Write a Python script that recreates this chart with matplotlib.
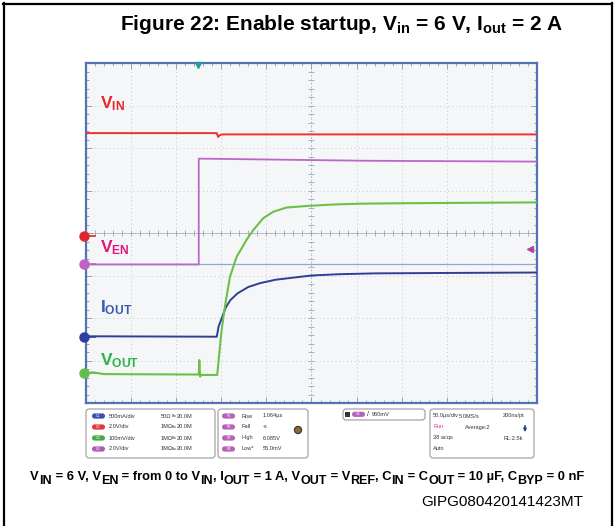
import matplotlib
matplotlib.use("Agg")
import matplotlib.pyplot as plt
from matplotlib.patches import FancyBboxPatch, Circle, Rectangle
from matplotlib.font_manager import FontProperties
import numpy as np

plt.rcParams['font.family'] = ['Liberation Sans', 'DejaVu Sans']
plt.rcParams['mathtext.fontset'] = 'custom'
plt.rcParams['mathtext.rm'] = 'Liberation Sans'
plt.rcParams['mathtext.bf'] = 'Liberation Sans:bold'
plt.rcParams['mathtext.default'] = 'regular'

# ---- scope settings -------------------------------------------------------
T_PER_DIV = 50.0          # us/div
N_HDIV = 10
N_VDIV = 8

# ---- traces, time in us, level in screen divisions from bottom -----------
vin_t = [0, 145, 146.5, 148, 151, 500]
vin_div = [6.35, 6.35, 6.26, 6.30, 6.32, 6.32]

ven_t = [0, 125, 125, 310, 500]
ven_div = [3.26, 3.26, 5.75, 5.70, 5.68]

iout_t = [0, 145, 147, 150, 155, 160, 168, 180, 193, 210, 230, 250, 280, 320, 400, 500]
iout_div = [1.57, 1.56, 1.80, 1.97, 2.25, 2.42, 2.58, 2.73, 2.82, 2.90, 2.95,
            3.00, 3.03, 3.05, 3.06, 3.07]

vout_t = [0, 8, 20, 125, 125.6, 126.5, 128, 145.5, 147.8, 150.4, 154, 159.6,
          167, 172.6, 178, 185.5, 196.6, 207.6, 222.5, 248, 274, 304, 348, 422, 500]
vout_div = [0.70, 0.72, 0.68, 0.67, 1.01, 0.62, 0.66, 0.66, 1.18, 1.72, 2.27,
            2.97, 3.44, 3.64, 3.84, 4.07, 4.35, 4.50, 4.60, 4.64, 4.67, 4.69,
            4.70, 4.71, 4.72]

trigger_level_div = 3.26
trigger_time = 124
trigger_marker_div = 3.62

# channel ground markers: (level, colour)
gnd_levels = [3.92, 3.26, 1.56, 0.70]
gnd_colors = ['#e0262b', '#c063c4', '#2e3f9e', '#63bd4a']

# ---- colours --------------------------------------------------------------
C_VIN = '#e8332f'
C_VEN = '#b968c4'
C_IOUT = '#2f3f96'
C_VOUT = '#6cc04a'
FRAME = '#5274b5'
GRID = '#c3c8d3'

W, H = 615, 526
fig = plt.figure(figsize=(W / 100, H / 100), dpi=100)
renderer = fig.canvas.get_renderer()

# page overlay in pixel coordinates
pg = fig.add_axes([0, 0, 1, 1], zorder=0)
pg.set_xlim(0, W)
pg.set_ylim(H, 0)
pg.axis('off')

pg.plot([3.5, 3.5], [3, H], color='black', lw=1.6)
pg.plot([3, 611.5], [3.5, 3.5], color='black', lw=1.6)
pg.plot([611.5, 611.5], [3, H], color='black', lw=1.6)

pg.text(342, 30, r'Figure 22: Enable startup, V$_{in}$ = 6 V, I$_{out}$ = 2 A',
        ha='center', va='baseline', fontsize=15, fontweight='bold')


def text_width(s, size):
    prop = FontProperties(family='Liberation Sans', weight='bold', size=size)
    w1, _, _ = renderer.get_text_width_height_descent(s + '|', prop, ismath=False)
    w2, _, _ = renderer.get_text_width_height_descent('|', prop, ismath=False)
    return w1 - w2


# conditions line: (text, subscript?)
cond = [("V", 0), ("IN", 1), (" = 6 V, V", 0), ("EN", 1), (" = from 0 to V", 0),
        ("IN", 1), (", I", 0), ("OUT", 1), (" = 1 A, V", 0), ("OUT", 1),
        (" = V", 0), ("REF", 1), (", C", 0), ("IN", 1), (" = C", 0), ("OUT", 1),
        (" = 10 µF, C", 0), ("BYP", 1), (" = 0 nF", 0)]
MAIN_SZ, SUB_SZ = 9.3, 9.0
sizes = [SUB_SZ if sub else MAIN_SZ for _, sub in cond]
widths = [text_width(s, sz) for (s, _), sz in zip(cond, sizes)]
x = 307.5 - sum(widths) / 2
for (s, sub), sz, w in zip(cond, sizes, widths):
    pg.text(x, 480 + (4 if sub else 0), s, fontsize=sz, fontweight='bold',
            va='baseline', ha='left')
    x += w

pg.text(583, 506, 'GIPG080420141423MT', ha='right', va='baseline', fontsize=11)

# ---- graticule axes -------------------------------------------------------
L, T, R, B = 86, 63, 537, 403
ax = fig.add_axes([L / W, (H - B) / H, (R - L) / W, (B - T) / H], zorder=1)
x_max = T_PER_DIV * N_HDIV
ax.set_xlim(0, x_max)
ax.set_ylim(0, N_VDIV)
ax.set_facecolor('#f5f6f8')
for s in ax.spines.values():
    s.set_color(FRAME)
    s.set_linewidth(1.6)

ax.set_xticks(np.arange(0, x_max + 1, T_PER_DIV))
ax.set_xticks(np.arange(0, x_max + 1, T_PER_DIV / 5), minor=True)
ax.set_yticks(np.arange(0, N_VDIV + 1, 1))
ax.set_yticks(np.arange(0, N_VDIV + 0.01, 0.2), minor=True)
ax.tick_params(which='both', direction='in', top=True, right=True,
               labelbottom=False, labelleft=False, color='#8a96ad', width=0.6)
ax.tick_params(which='major', length=4)
ax.tick_params(which='minor', length=2.5)

for k in range(1, N_HDIV):
    if k != N_HDIV // 2:
        ax.axvline(k * T_PER_DIV, color=GRID, lw=0.7, ls=(0, (1, 3)), zorder=1)
for k in range(1, N_VDIV):
    if k != N_VDIV // 2:
        ax.axhline(k, color=GRID, lw=0.7, ls=(0, (1, 3)), zorder=1)

# centre cross with fine ticks
xc, yc = x_max / 2, N_VDIV / 2
ax.axhline(yc, color='#b3bac8', lw=0.7, zorder=1)
ax.axvline(xc, color='#b3bac8', lw=0.7, ls=(0, (2, 2)), zorder=1)
hx = np.arange(0, x_max + 1, T_PER_DIV / 5)
vy = np.arange(0, N_VDIV + 0.01, 0.2)
ax.plot(hx, np.full_like(hx, yc), ls='none', marker='|', ms=4, mew=0.6,
        color='#9aa4b8', zorder=1)
ax.plot(np.full_like(vy, xc), vy, ls='none', marker='_', ms=4, mew=0.6,
        color='#9aa4b8', zorder=1)

# trigger level line
ax.axhline(trigger_level_div, color='#8ea7d9', lw=0.9, zorder=2)

# traces
ax.plot(vin_t, vin_div, color=C_VIN, lw=1.4, zorder=4)
ax.plot(ven_t, ven_div, color=C_VEN, lw=1.3, zorder=4)
ax.plot(iout_t, iout_div, color=C_IOUT, lw=1.4, zorder=4)
ax.plot(vout_t, vout_div, color=C_VOUT, lw=1.5, zorder=5)

# channel ground markers on the left edge
for lvl, col in zip(gnd_levels, gnd_colors):
    ax.plot([-2], [lvl], marker='o', ms=6.5, color=col, mec=col, clip_on=False, zorder=6)
    ax.plot([2, 10], [lvl, lvl], color=col, lw=1.2, clip_on=False, zorder=6)

# trigger position / level markers
ax.plot([trigger_time], [N_VDIV - 0.05], marker='v', ms=5, color='#2a9a9a',
        clip_on=False, zorder=6)
ax.plot([x_max - 8], [trigger_marker_div], marker='<', ms=4, color='#b0459a',
        clip_on=False, zorder=6)

# channel labels
ax.text(15.5, 6.94, r'V$_{IN}$', color='#e8262b', fontsize=12.5,
        fontweight='bold', va='baseline')
ax.text(15.5, 3.55, r'V$_{EN}$', color='#e0177e', fontsize=12.5,
        fontweight='bold', va='baseline')
ax.text(15.5, 2.14, r'I$_{OUT}$', color='#3a59b0', fontsize=12.5,
        fontweight='bold', va='baseline')
ax.text(15.5, 0.89, r'V$_{OUT}$', color='#2fb14a', fontsize=12.5,
        fontweight='bold', va='baseline')

# ---- readout panels below the graticule ----------------------------------
def panel(x0, y0, x1, y1):
    pg.add_patch(FancyBboxPatch((x0, y0), x1 - x0, y1 - y0,
                                boxstyle='round,pad=0,rounding_size=3',
                                fc='white', ec='#9a9a9a', lw=0.8))

def badge(x, y, col, txt):
    pg.add_patch(FancyBboxPatch((x, y - 2.6), 13, 5.2,
                                boxstyle='round,pad=0,rounding_size=2.6',
                                fc=col, ec='none'))
    pg.text(x + 6.5, y, txt, color='white', fontsize=2.6, ha='center', va='center')

TXT = dict(fontsize=4.1, color='#333333', va='center')
rows = [416, 427, 438, 449]

panel(86, 409, 215, 458)
ch_cols = ['#3b4fb0', '#e23a33', '#3eae45', '#ad5bb6']
ch_scale = ['500mA/div', '2.0V/div', '100mV/div', '2.0V/div']
ch_imp = ['50Ω', '1MΩ', '1MΩ', '1MΩ']
for i, y in enumerate(rows):
    badge(92, y, ch_cols[i], 'C%d' % (i + 1))
    pg.text(109, y, ch_scale[i], **TXT)
    pg.text(161, y, ch_imp[i], **TXT)
    pg.text(172, y, 'Bw', fontsize=2.5, color='#333333', va='center')
    pg.text(177, y, '20.0M', **TXT)

panel(218, 409, 308, 458)
meas_name = ['Rise', 'Fall', 'High', 'Low*']
meas_val = ['1.064µs', '-s', '6.085V', '55.0mV']
for i, y in enumerate(rows):
    badge(222, y, '#b562b8', 'P%d' % (i + 1))
    pg.text(241, y, meas_name[i], **TXT)
    pg.text(263, y, meas_val[i], **TXT)
pg.add_patch(Circle((298, 430), 3.6, fc='#8b6c2c', ec='#333333', lw=0.8))

panel(343, 409, 425, 420)
pg.add_patch(Rectangle((345, 411.5), 5, 5.5, fc='#333344', ec='none'))
badge(352, 414.3, '#b562b8', 'C4')
pg.text(367, 414.3, '/', fontsize=5, color='#333333', va='center')
pg.text(372, 414.3, '960mV', **TXT)

panel(430, 409, 534, 458)
pg.text(433, rows[0], '50.0µs/div', **TXT)
pg.text(459, rows[0], '5.0MS/s', **TXT)
pg.text(503, rows[0], '200ns/pt', **TXT)
pg.text(433, rows[1], 'Run', fontsize=4.1, color='#d0359a', va='center')
pg.text(465, rows[1], 'Average:2', **TXT)
pg.text(433, rows[2], '38 acqs', **TXT)
pg.text(503, rows[2], 'RL:2.5k', **TXT)
pg.text(433, rows[3], 'Auto', **TXT)
pg.annotate('', xy=(525, 435), xytext=(525, 423),
            arrowprops=dict(arrowstyle='-|>', color='#2d3f9a', lw=1.2,
                            mutation_scale=4))

fig.savefig('out.png', dpi=100)
